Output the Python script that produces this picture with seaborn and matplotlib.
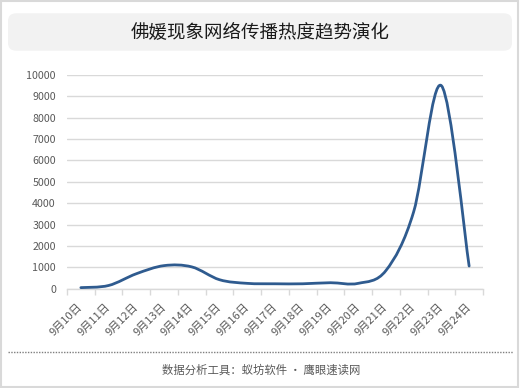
import numpy as np
import pandas as pd
import matplotlib
matplotlib.use('Agg')
import matplotlib.pyplot as plt
import seaborn as sns
from matplotlib.path import Path
from matplotlib.patches import PathPatch, FancyBboxPatch, Rectangle
from matplotlib.lines import Line2D
from matplotlib.transforms import IdentityTransform

# ---- data ----
dates = ['9月10日', '9月11日', '9月12日', '9月13日', '9月14日', '9月15日', '9月16日',
         '9月17日', '9月18日', '9月19日', '9月20日', '9月21日', '9月22日', '9月23日', '9月24日']
heat = [50, 150, 700, 1080, 1020, 420, 250, 230, 230, 280, 250, 850, 3600, 9500, 1060]
y_ticks = [0, 1000, 2000, 3000, 4000, 5000, 6000, 7000, 8000, 9000, 10000]
title = '佛媛现象网络传播热度趋势演化'
source = '数据分析工具：蚁坊软件 · 鹰眼速读网'

line_color = '#2f5b8f'
grid_color = '#d9d9d9'
text_color = '#595959'

sns.set_theme(style='white')
plt.rcParams['font.family'] = ['Noto Sans CJK SC', 'DejaVu Sans']

W, H = 521, 388
fig = plt.figure(figsize=(W / 100, H / 100), dpi=100)
fig.patch.set_facecolor('white')

ax = fig.add_axes([67 / W, (H - 288.7) / H, (483 - 67) / W, (288.7 - 75) / H])
df = pd.DataFrame({'date': dates, 'heat': heat})
sns.lineplot(data=df, x='date', y='heat', ax=ax, color=line_color, lw=2, sort=False)

# Excel-style smoothed line (Bezier through the plotted points)
line = ax.lines[0]
pts = np.asarray(line.get_path().vertices, dtype=float)
line.set_visible(False)
n = len(pts)
verts = [tuple(pts[0])]
codes = [Path.MOVETO]
for i in range(n - 1):
    p0 = pts[i - 1] if i > 0 else pts[i]
    p1 = pts[i]
    p2 = pts[i + 1]
    p3 = pts[i + 2] if i + 2 < n else pts[i + 1]
    c1 = p1 + (p2 - p0) / 6.0
    c2 = p2 - (p3 - p1) / 6.0
    verts += [tuple(c1), tuple(c2), tuple(p2)]
    codes += [Path.CURVE4, Path.CURVE4, Path.CURVE4]
ax.add_patch(PathPatch(Path(verts, codes), facecolor='none', edgecolor=line_color,
                       lw=2.0, capstyle='round', joinstyle='round', zorder=3))

ax.set_xlim(-0.5, len(dates) - 0.5)
ax.set_ylim(0, 10000)
ax.set_yticks(y_ticks)
ax.set_yticklabels([str(v) for v in y_ticks], fontsize=7.7, color=text_color)
ax.set_xticks(range(len(dates)))
ax.set_xticklabels(dates, fontsize=8.0, color=text_color, rotation=45,
                   ha='right', va='center', rotation_mode='anchor')
ax.set_xticks(np.arange(-0.5, len(dates), 1.0), minor=True)
ax.tick_params(axis='x', which='major', length=0, pad=12)
ax.tick_params(axis='x', which='minor', length=4, color=grid_color, width=1, direction='out', bottom=True)
ax.tick_params(axis='y', length=0, pad=8)
ax.set_xlabel('')
ax.set_ylabel('')
ax.yaxis.grid(True, color=grid_color, lw=1)
ax.xaxis.grid(False)
for s in ['left', 'right', 'top']:
    ax.spines[s].set_visible(False)
ax.spines['bottom'].set_color(grid_color)
ax.spines['bottom'].set_linewidth(1)
ax.set_axisbelow(True)

# outer border
fig.patches.append(Rectangle((0.75, 0.75), W - 3.5, H - 1.5, transform=IdentityTransform(),
                             facecolor='none', edgecolor='#d9d9d9', lw=1.5, zorder=0))
# title box
fig.patches.append(FancyBboxPatch((8, H - 50.7), 504, 37.4,
                                  boxstyle='round,pad=0,rounding_size=8',
                                  transform=IdentityTransform(),
                                  facecolor='#f2f2f2', edgecolor='none', zorder=0))
fig.text(260.5 / W, (H - 32) / H, title, ha='center', va='center', fontsize=13.3, color='#1a1a1a')

# dotted separator
fig.lines.append(Line2D([8, 513], [H - 352.3, H - 352.3], transform=IdentityTransform(),
                        color='#7f7f7f', lw=1, linestyle=(0, (1, 1))))
fig.text(261 / W, (H - 370) / H, source, ha='center', va='center', fontsize=8.2, color=text_color)

fig.savefig('out.png', dpi=100)
